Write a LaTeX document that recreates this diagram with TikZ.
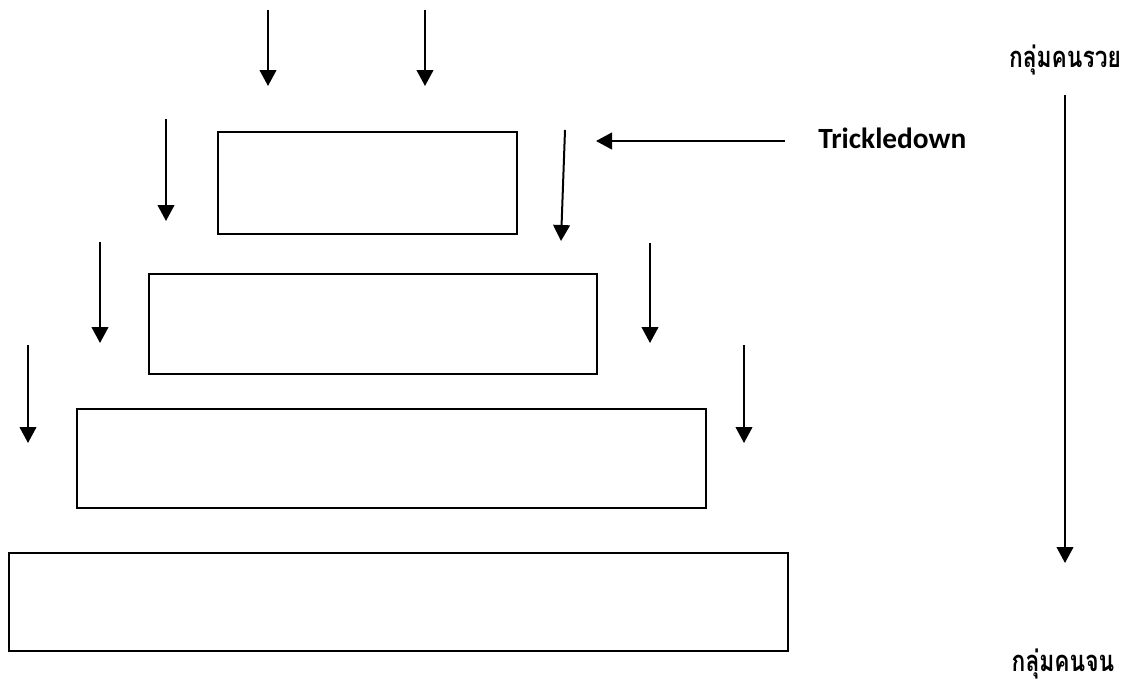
\documentclass[tikz,border=0pt]{standalone}
\usepackage{fontspec}
\setmainfont{Carlito}
\newfontfamily\thaifont[Script=Thai]{Loma}
\usetikzlibrary{arrows.meta}
\begin{document}
\begin{tikzpicture}[x=0.75pt,y=-0.75pt,
  box/.style={draw,line width=1.5pt,inner sep=0pt,anchor=north west},
  arr/.style={line width=1.5pt,-{Triangle[width=12.5pt,length=12pt]}},
  thai/.style={font=\thaifont\bfseries\fontsize{19pt}{22pt}\selectfont,inner sep=0pt,xscale=0.9,yscale=1.15,transform shape},
  lbl/.style={font=\bfseries\fontsize{22pt}{26pt}\selectfont,inner sep=0pt}]
\useasboundingbox (0,0) rectangle (1131,686);
% boxes
\node[box,minimum width=224.25pt,minimum height=76.5pt] (b1) at (217,131) {};
\node[box,minimum width=336pt,minimum height=75pt] (b2) at (148,273) {};
\node[box,minimum width=471.75pt,minimum height=74.25pt] (b3) at (76,408) {};
\node[box,minimum width=584.25pt,minimum height=73.5pt] (b4) at (8,552) {};
% arrow coordinates
\coordinate (t1s) at (268,10); \coordinate (t1e) at (268,86);
\coordinate (t2s) at (425,10); \coordinate (t2e) at (425,86);
\coordinate (l1s) at (166,119); \coordinate (l1e) at (166,221);
\coordinate (r1s) at (565,130); \coordinate (r1e) at (561,241);
\coordinate (l2s) at (100,242); \coordinate (l2e) at (100,343);
\coordinate (r2s) at (650,243); \coordinate (r2e) at (650,343);
\coordinate (l3s) at (28,345); \coordinate (l3e) at (28,443);
\coordinate (r3s) at (744,345); \coordinate (r3e) at (744,443);
\coordinate (trs) at (785,141); \coordinate (tre) at (596,141);
\coordinate (vs) at (1065,95); \coordinate (ve) at (1065,563);
\foreach \a in {t1,t2,l1,r1,l2,r2,l3,r3,tr} {\draw[arr] (\a s) -- (\a e);}
\draw[arr] (vs) -- (ve);
% labels
\node[lbl,anchor=west] (trick) at (818,138) {Trickledown};
\node[thai] (rich) at (1065,60) {กลุ่มคนรวย};
\node[thai] (poor) at (1063,664) {กลุ่มคนจน};
\end{tikzpicture}
\end{document}
